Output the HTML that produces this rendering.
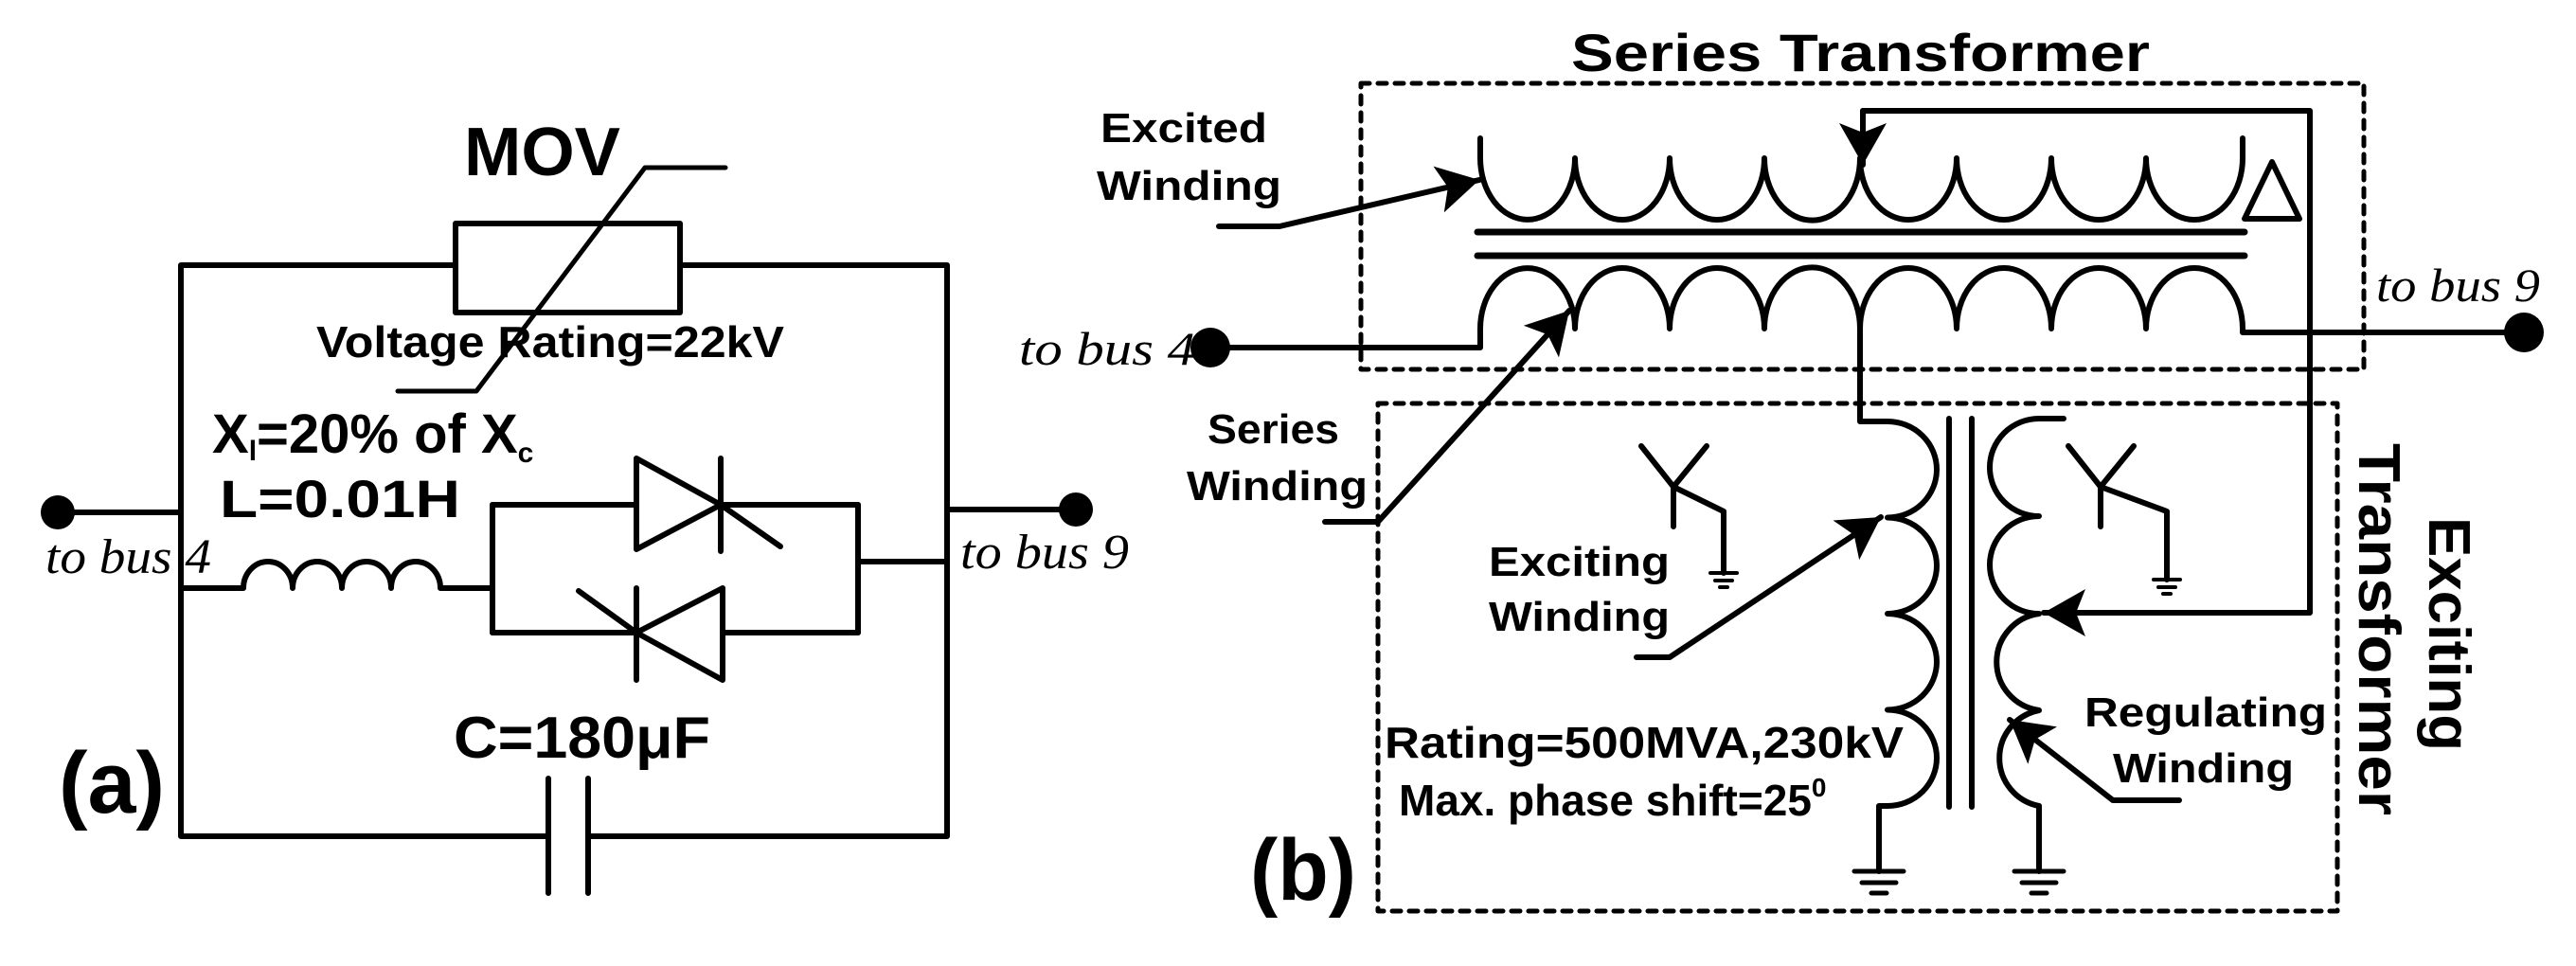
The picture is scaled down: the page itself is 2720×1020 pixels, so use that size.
<!DOCTYPE html>
<html><head><meta charset="utf-8"><style>
html,body{margin:0;padding:0;background:#fff}
svg{display:block}
text{font-family:"Liberation Sans",Arial,sans-serif;font-weight:bold;fill:#000}
.it{font-family:"Liberation Serif",serif;font-style:italic;font-weight:normal}
</style></head><body>
<svg width="2720" height="1020" viewBox="0 0 2720 1020" xmlns="http://www.w3.org/2000/svg">
<defs>
<marker id="ah" markerUnits="userSpaceOnUse" markerWidth="46" markerHeight="50" refX="44" refY="25" orient="auto">
<path d="M0,0 L44,25 L0,50 L10,25 z" fill="#000"/>
</marker>
</defs>
<g fill="none" stroke="#000" stroke-width="6" stroke-linecap="round" stroke-linejoin="round">
<!-- (a) -->
<path d="M191,280 H481 M718,280 H1000 V883 H621 M579,883 H191 V280"/>
<rect x="481" y="236" width="237" height="94"/>
<path d="M420,413 H503 L681,177 H766" stroke-width="5"/>
<path d="M579,822 V943 M621,822 V943"/>
<path d="M61,541 H191 M1000,538 H1136"/>
<path d="M191,621 H257 A26,28 0 0 1 309,621 A26,28 0 0 1 361,621 A26,28 0 0 1 413,621 A26,28 0 0 1 465,621 H520"/>
<path d="M520,533 V668 M906,533 V668 M906,593 H1000"/>
<path d="M520,533 H672 M761,533 H906 M672,484 V580 L761,533 Z M761,484 V582 M761,533 L824,577"/>
<path d="M520,668 H672 M763,668 H906 M763,621 V718 L672,668 Z M672,621 V718 M672,668 L611,624"/>
<!-- (b) boxes -->
<rect x="1437" y="88" width="1059" height="302" stroke-width="5" stroke-dasharray="9 9"/>
<rect x="1455" y="426" width="1013" height="536" stroke-width="5" stroke-dasharray="9 9"/>
<!-- excited winding -->
<path d="M1563,146 V167 A50,65 0 0 0 1663,167 A50,65 0 0 0 1763,167 A50,65 0 0 0 1863,167 A50,65 0 0 0 1964,167 A51,65 0 0 0 2066,167 A50,65 0 0 0 2166,167 A50,65 0 0 0 2266,167 A51,65 0 0 0 2368,167 V146"/>
<path d="M1560,245 H2370 M1560,270 H2370" stroke-width="7"/>
<path d="M2370,231 L2399,171 L2428,231 Z"/>
<!-- series winding -->
<path d="M1278,367 H1563 V347 A50,64 0 0 1 1663,347 A50,64 0 0 1 1763,347 A50,64 0 0 1 1863,347 A50,64 0 0 1 1964,347 A51,64 0 0 1 2066,347 A50,64 0 0 1 2166,347 A50,64 0 0 1 2266,347 A51,64 0 0 1 2368,347 V351 H2665"/>
<path d="M1964,347 V445 H1993"/>
<!-- exciting winding -->
<path d="M1993,445 A52,50.75 0 0 1 1993,546.5 A52,50.75 0 0 1 1993,648 A52,50.75 0 0 1 1993,749.5 A52,50.75 0 0 1 1993,851 H1984 V920"/>
<path d="M2058,442 V852 M2082,442 V852"/>
<path d="M2179,442 H2153 A52,51.5 0 0 0 2153,545 A52,51.5 0 0 0 2153,648 A52,51.5 0 0 0 2153,750 A52,51.5 0 0 0 2153,851 V920"/>
<path d="M1958,920 H2010 M1966,932 H2002 M1976,943 H1992" stroke-width="5"/>
<path d="M2127,920 H2179 M2135,932 H2171 M2145,943 H2161" stroke-width="5"/>
<!-- Y symbols -->
<path d="M1733,471 L1767,514 L1802,471 M1767,514 V556 M1767,514 L1820,540 V605"/>
<path d="M1806,605 H1834 M1811,613 H1829 M1816,620 H1824" stroke-width="4"/>
<path d="M2184,471 L2218,514 L2253,471 M2218,514 V556 M2218,514 L2288,540 V612"/>
<path d="M2274,612 H2302 M2279,620 H2297 M2284,627 H2292" stroke-width="4"/>
<!-- loop -->
<path d="M1967,117 H2439 V647 H2158" marker-end="url(#ah)"/>
<path d="M1967,117 V174" marker-end="url(#ah)"/>
<!-- label arrows -->
<path d="M1287,239 H1351 L1562,190" marker-end="url(#ah)"/>
<path d="M1399,551 H1455 L1657,328" marker-end="url(#ah)"/>
<path d="M1728,694 H1763 L1986,546" marker-end="url(#ah)"/>
<path d="M2301,845 H2231 L2122,760" marker-end="url(#ah)"/>
</g>
<g fill="#000">
<circle cx="61" cy="541" r="18"/><circle cx="1136" cy="538" r="18"/>
<circle cx="1278" cy="367" r="21"/><circle cx="2665" cy="351" r="21"/>
</g>
<!-- texts (a) -->
<text x="490" y="185" font-size="72" textLength="165" lengthAdjust="spacingAndGlyphs">MOV</text>
<text x="334" y="377" font-size="46" textLength="494" lengthAdjust="spacingAndGlyphs">Voltage Rating=22kV</text>
<text x="224" y="478" font-size="58">X<tspan font-size="30" dy="8">l</tspan><tspan dy="-8">=20% of X</tspan><tspan font-size="30" dy="10">c</tspan></text>
<text x="232" y="546" font-size="56" textLength="254" lengthAdjust="spacingAndGlyphs">L=0.01H</text>
<text x="479" y="800" font-size="62" textLength="271" lengthAdjust="spacingAndGlyphs">C=180μF</text>
<text x="62" y="858" font-size="92" textLength="112" lengthAdjust="spacingAndGlyphs">(a)</text>
<text class="it" x="48" y="605" font-size="52" textLength="175" lengthAdjust="spacingAndGlyphs">to bus 4</text>
<text class="it" x="1014" y="600" font-size="52" textLength="178" lengthAdjust="spacingAndGlyphs">to bus 9</text>
<!-- texts (b) -->
<text x="1659" y="75" font-size="56" textLength="611" lengthAdjust="spacingAndGlyphs">Series Transformer</text>
<text x="1162" y="150" font-size="44" textLength="176" lengthAdjust="spacingAndGlyphs">Excited</text>
<text x="1158" y="211" font-size="44" textLength="195" lengthAdjust="spacingAndGlyphs">Winding</text>
<text class="it" x="1076" y="385" font-size="50" textLength="186" lengthAdjust="spacingAndGlyphs">to bus 4</text>
<text class="it" x="2509" y="318" font-size="50" textLength="173" lengthAdjust="spacingAndGlyphs">to bus 9</text>
<text x="1275" y="468" font-size="44" textLength="139" lengthAdjust="spacingAndGlyphs">Series</text>
<text x="1253" y="528" font-size="44" textLength="191" lengthAdjust="spacingAndGlyphs">Winding</text>
<text x="1572" y="608" font-size="44" textLength="191" lengthAdjust="spacingAndGlyphs">Exciting</text>
<text x="1572" y="666" font-size="44" textLength="191" lengthAdjust="spacingAndGlyphs">Winding</text>
<text x="2201" y="767" font-size="44" textLength="256" lengthAdjust="spacingAndGlyphs">Regulating</text>
<text x="2231" y="826" font-size="44" textLength="191" lengthAdjust="spacingAndGlyphs">Winding</text>
<text x="1462" y="800" font-size="46" textLength="548" lengthAdjust="spacingAndGlyphs">Rating=500MVA,230kV</text>
<text x="1477" y="861" font-size="46">Max. phase shift=25<tspan font-size="28" dy="-20">0</tspan></text>
<text x="1320" y="950" font-size="92" textLength="112" lengthAdjust="spacingAndGlyphs">(b)</text>
<text transform="translate(2565,546) rotate(90)" font-size="62" textLength="247" lengthAdjust="spacingAndGlyphs">Exciting</text>
<text transform="translate(2491,468) rotate(90)" font-size="62" textLength="393" lengthAdjust="spacingAndGlyphs">Transformer</text>
</svg>
</body></html>
